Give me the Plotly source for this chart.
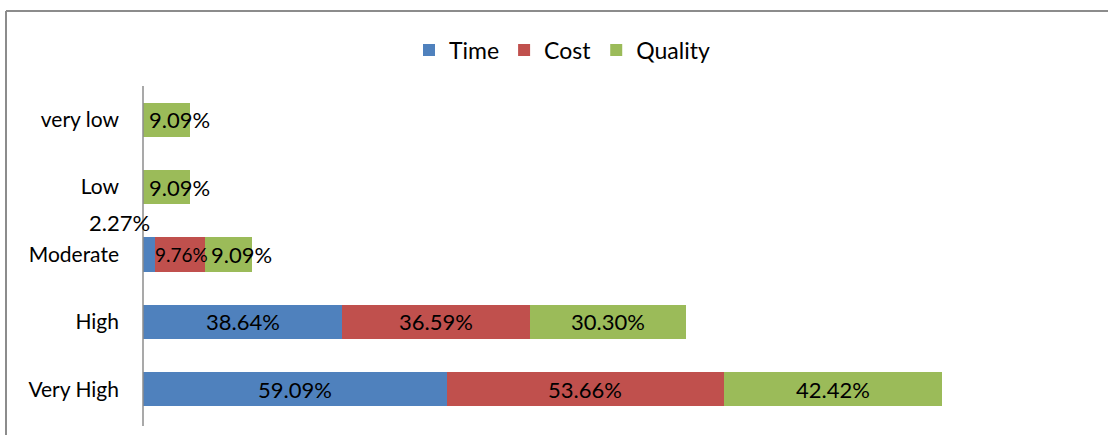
import plotly.graph_objects as go

categories = ["Very High", "High", "Moderate", "Low", "very low"]
time_vals = [59.09, 38.64, 2.27, 0, 0]
cost_vals = [53.66, 36.59, 9.76, 0, 0]
quality_vals = [42.42, 30.30, 9.09, 9.09, 9.09]

series = [("Time", time_vals, "#4F81BD"),
          ("Cost", cost_vals, "#C0504D"),
          ("Quality", quality_vals, "#9BBB59")]

FONT = "Lato"
LBL = 22
W, H = 1108, 435
L, R, T, B = 143, 38, 86, 12
XMAX = 180

fig = go.Figure()
for name, vals, color in series:
    fig.add_trace(go.Bar(
        y=categories, x=vals, name=name, orientation="h",
        marker=dict(color=color, line=dict(width=0)),
        hoverinfo="skip",
    ))

# data labels
annotations = []
base = [0.0] * len(categories)
for name, vals, color in series:
    for i, v in enumerate(vals):
        if v <= 0:
            continue
        start = base[i]
        txt = f"{v:.2f}%"
        if v >= 15:
            annotations.append(dict(x=start + v / 2, y=i, text=txt, showarrow=False,
                                    xanchor="center", yanchor="middle",
                                    font=dict(size=LBL, color="#000", family=FONT)))
        elif v < 5:
            annotations.append(dict(x=start + v, y=i + 0.48, text=txt, showarrow=False,
                                    xanchor="right", yanchor="middle", xshift=-3,
                                    font=dict(size=LBL, color="#000", family=FONT)))
        elif name == "Cost":
            annotations.append(dict(x=start, y=i, text=txt, showarrow=False,
                                    xanchor="left", yanchor="middle", xshift=-2,
                                    font=dict(size=19, color="#000", family=FONT)))
        else:
            annotations.append(dict(x=start, y=i, text=txt, showarrow=False,
                                    xanchor="left", yanchor="middle",
                                    xshift=4,
                                    font=dict(size=LBL, color="#000", family=FONT)))
        base[i] += v

pw = W - L - R
ph = H - T - B
def px2x(px):
    return (px - L) / pw
def py2y(py):
    return (H - B - py) / ph

shapes = [
    dict(type="line", xref="paper", yref="paper", x0=px2x(6), x1=px2x(1110),
         y0=py2y(11), y1=py2y(11), line=dict(color="#8c8c8c", width=2)),
    dict(type="line", xref="paper", yref="paper", x0=px2x(6), x1=px2x(6),
         y0=py2y(11), y1=py2y(437), line=dict(color="#8c8c8c", width=2)),
    dict(type="line", xref="paper", yref="paper", x0=0, x1=0,
         y0=py2y(86), y1=py2y(426), line=dict(color="#8c8c8c", width=1.5)),
]

fig.update_layout(
    width=W, height=H,
    margin=dict(l=L, r=R, t=T, b=B, pad=0),
    barmode="stack", bargap=0.495,
    paper_bgcolor="white", plot_bgcolor="white",
    font=dict(family=FONT, size=21, color="#000"),
    showlegend=True,
    legend=dict(orientation="h", x=px2x(562), xanchor="center", y=py2y(50),
                yanchor="middle", font=dict(size=23, family=FONT),
                traceorder="normal", itemwidth=30,
                bgcolor="rgba(0,0,0,0)"),
    xaxis=dict(range=[0, XMAX], showgrid=False, zeroline=False, showline=False,
               showticklabels=False, ticks=""),
    yaxis=dict(categoryorder="array", categoryarray=categories, range=[-0.5, 4.5],
               showgrid=False, zeroline=False, showline=False, ticks="",
               ticklabelstandoff=23, tickfont=dict(size=21, family=FONT)),
    annotations=annotations,
    shapes=shapes,
)

fig.write_html("out.html", config={"displayModeBar": False},
               post_script="document.body.style.margin='0px';")
